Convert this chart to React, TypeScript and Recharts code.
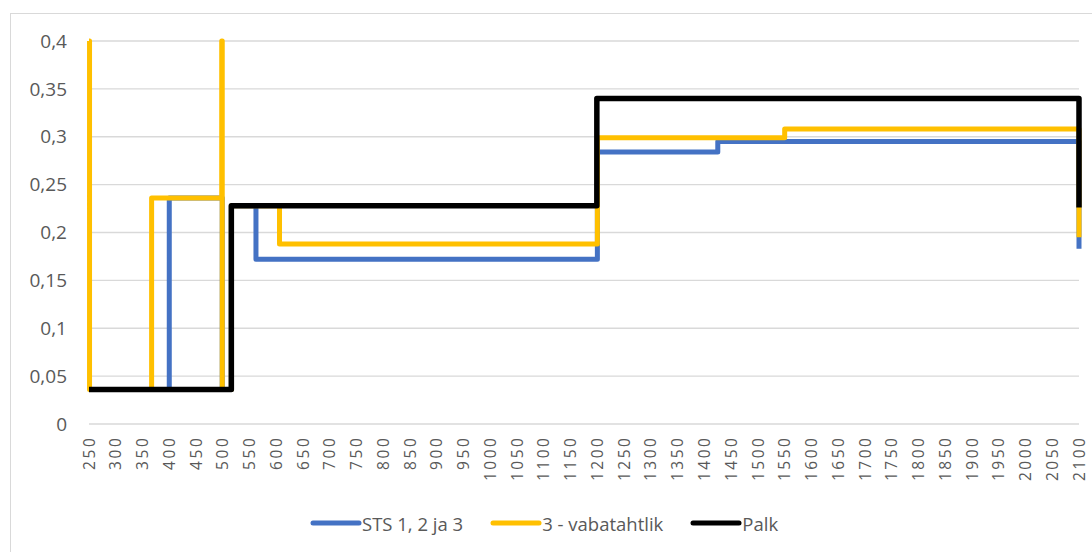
import React from "react";
import {
  LineChart,
  Line,
  XAxis,
  YAxis,
  CartesianGrid,
  Legend,
} from "recharts";

// break points of each series (value holds until the next x)
const stsX = [250, 400, 499, 516, 562, 1200, 1425, 2100];
const stsY = [0.036, 0.236, 0.036, 0.228, 0.172, 0.284, 0.295, 0.183];

const vabaX = [250, 251, 367, 498, 499, 516, 606, 1200, 1550, 2100];
const vabaY = [0.4, 0.036, 0.236, 0.4, 0.036, 0.228, 0.188, 0.299, 0.308, 0.195];

const palkX = [250, 516, 1199, 2100];
const palkY = [0.036, 0.228, 0.34, 0.226];

const seriesNames = ["STS 1, 2 ja 3", "3 - vabatahtlik", "Palk"];

const xTicks = [
  250, 300, 350, 400, 450, 500, 550, 600, 650, 700, 750, 800, 850, 900, 950,
  1000, 1050, 1100, 1150, 1200, 1250, 1300, 1350, 1400, 1450, 1500, 1550,
  1600, 1650, 1700, 1750, 1800, 1850, 1900, 1950, 2000, 2050, 2100,
];
const yTicks = [0, 0.05, 0.1, 0.15, 0.2, 0.25, 0.3, 0.35, 0.4];

const toRows = (xs: number[], ys: number[]) =>
  xs.map((x, i) => ({ x, y: ys[i] }));

const textColor = "#595959";
const font = "'Open Sans'";

const XTick = (props: any) => {
  const { x, y, payload } = props;
  const label = String(payload.value);
  return (
    <g transform={`translate(${x},${y + 6}) rotate(-90)`}>
      <text
        textAnchor="end"
        dy="0.36em"
        fill={textColor}
        fontSize={15.5}
        fontFamily={font}
        textLength={label.length * 11 - 1}
        lengthAdjust="spacing"
      >
        {label}
      </text>
    </g>
  );
};

const LegendContent = (props: any) => {
  const items = [...(props.payload || [])].sort(
    (a: any, b: any) =>
      seriesNames.indexOf(a.value) - seriesNames.indexOf(b.value)
  );
  return (
    <div
      style={{
        display: "flex",
        alignItems: "center",
        paddingLeft: 299,
        height: 26,
        fontFamily: font,
        fontSize: 18.5,
        color: textColor,
      }}
    >
      {items.map((p: any) => (
        <div
          key={p.value}
          style={{ display: "flex", alignItems: "center", marginRight: 27 }}
        >
          <svg width={52} height={10}>
            <line
              x1={3}
              x2={49}
              y1={5}
              y2={5}
              stroke={p.color}
              strokeWidth={5}
              strokeLinecap="round"
            />
          </svg>
          <span>{p.value}</span>
        </div>
      ))}
    </div>
  );
};

export default function App() {
  return (
    <div
      style={{
        position: "fixed",
        left: 0,
        top: 0,
        width: 1092,
        height: 552,
        overflow: "hidden",
        background: "#fff",
      }}
    >
      <div
        style={{
          position: "absolute",
          left: 10,
          top: 13,
          width: 1100,
          height: 560,
          border: "1.5px solid #D9D9D9",
          fontFamily: font,
        }}
      >
        <LineChart
          width={1090}
          height={540}
          margin={{ top: 27, right: 22, left: 0, bottom: 18 }}
        >
          <CartesianGrid
            vertical={false}
            stroke="#D9D9D9"
            strokeWidth={1.3}
          />
          <XAxis
            type="number"
            dataKey="x"
            domain={[250, 2100]}
            ticks={xTicks}
            interval={0}
            axisLine={false}
            tickLine={false}
            height={86}
            tick={<XTick />}
          />
          <YAxis
            type="number"
            domain={[0, 0.4]}
            ticks={yTicks}
            width={78}
            axisLine={false}
            tickLine={false}
            tickMargin={16}
            tick={{ fill: textColor, fontSize: 19, fontFamily: font }}
            tickFormatter={(v: number) => String(v).replace(".", ",")}
          />
          <Legend
            verticalAlign="bottom"
            content={<LegendContent />}
            wrapperStyle={{ left: 0, width: 1090, height: 26 }}
          />
          <Line
            name={seriesNames[0]}
            data={toRows(stsX, stsY)}
            dataKey="y"
            type="stepAfter"
            stroke="#4472C4"
            strokeWidth={5}
            strokeLinejoin="round"
            dot={false}
            activeDot={false}
            isAnimationActive={false}
          />
          <Line
            name={seriesNames[1]}
            data={toRows(vabaX, vabaY)}
            dataKey="y"
            type="stepAfter"
            stroke="#FFC000"
            strokeWidth={5}
            strokeLinejoin="round"
            dot={false}
            activeDot={false}
            isAnimationActive={false}
          />
          <Line
            name={seriesNames[2]}
            data={toRows(palkX, palkY)}
            dataKey="y"
            type="stepAfter"
            stroke="#000000"
            strokeWidth={5.5}
            strokeLinejoin="round"
            dot={false}
            activeDot={false}
            isAnimationActive={false}
          />
        </LineChart>
      </div>
    </div>
  );
}
